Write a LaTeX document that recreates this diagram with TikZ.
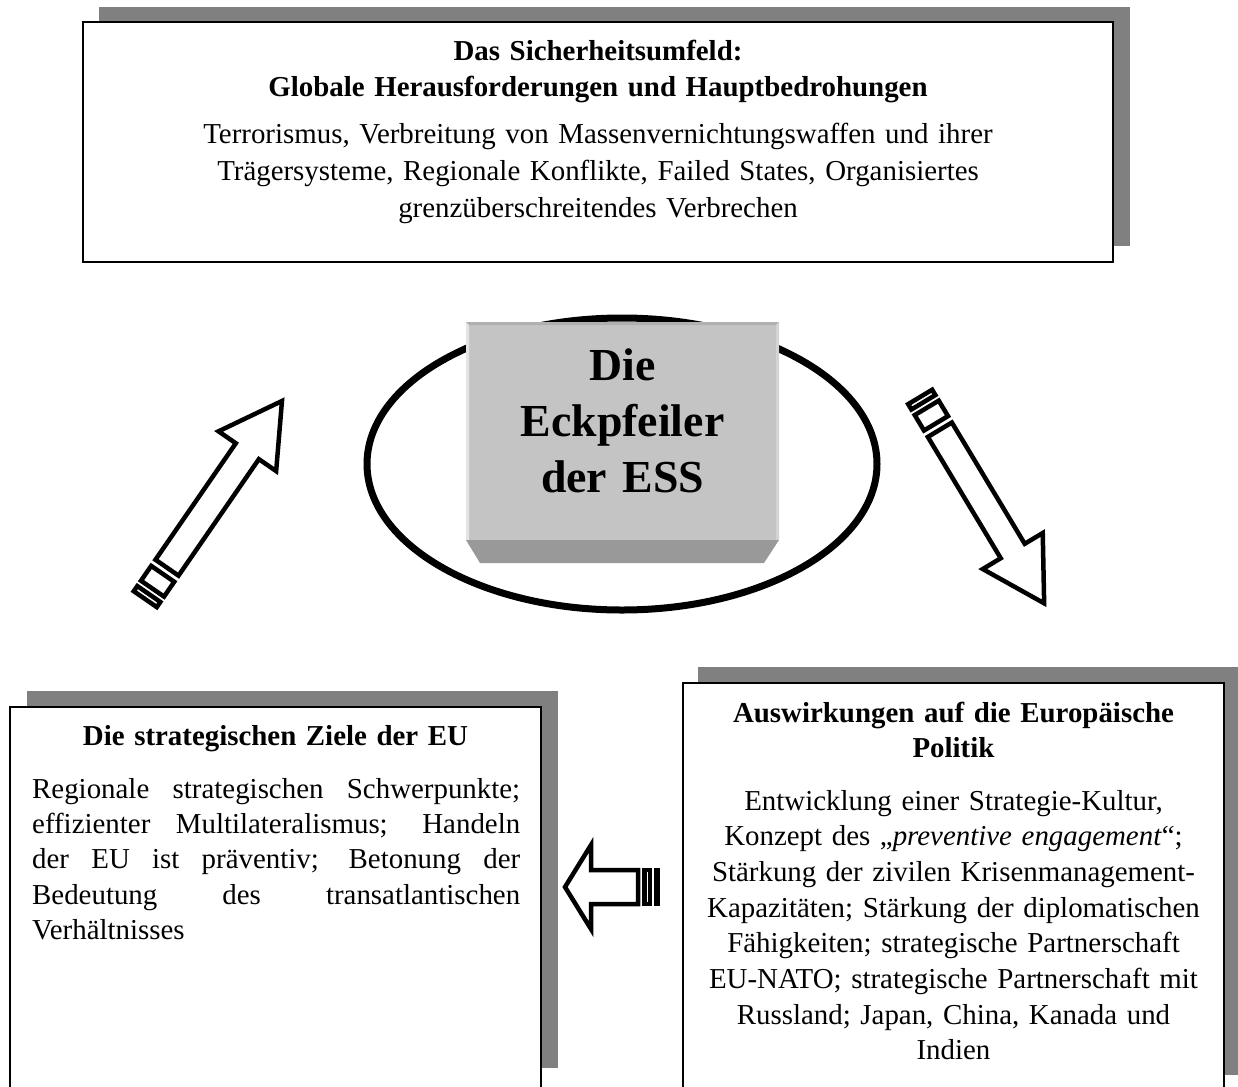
\documentclass[tikz,border=0pt]{standalone}
\usepackage{fontspec}
\setmainfont{Liberation Serif}
\definecolor{shadowgray}{RGB}{128,128,128}
\definecolor{facegray}{RGB}{196,196,196}
\definecolor{bottomgray}{RGB}{153,153,153}
\definecolor{topgray}{RGB}{176,176,176}
\definecolor{leftgray}{RGB}{228,228,228}
\definecolor{rightgray}{RGB}{212,212,212}
\begin{document}
\begin{tikzpicture}[x=1bp,y=-1bp,
  shadow/.style={fill=shadowgray},
  panel/.style={draw=black, line width=2bp, fill=white, inner sep=0, outer sep=0, anchor=north west},
  titletext/.style={inner sep=0, anchor=base, align=center, font=\fontsize{29}{37}\selectfont\bfseries},
  bodytext/.style={inner sep=0, anchor=base, align=center, font=\fontsize{29}{37.5}\selectfont},
  arrowpart/.style={draw=black, fill=white, line width=4.5bp, line join=miter},
]
\useasboundingbox (0,0) rectangle (1238,1087);
\clip (0,0) rectangle (1238,1087);

% top panel
\fill[shadow] (99,7) rectangle (1130,246);
\node[panel, minimum width=1030bp, minimum height=240bp] (envbox) at (83,22) {};
\node[titletext, text width=1000bp] (envtitle) at (598,60)
  {Das Sicherheitsumfeld:\\Globale Herausforderungen und Hauptbedrohungen};
\node[bodytext, text width=1000bp] (envbody) at (598,143)
  {Terrorismus, Verbreitung von Massenvernichtungswaffen und ihrer\\Trägersysteme, Regionale Konflikte, Failed States, Organisiertes\\grenzüberschreitendes Verbrechen};

% left panel
\fill[shadow] (27,691) rectangle (558,1068);
\node[panel, minimum width=531bp, minimum height=385bp] (goalbox) at (10,707) {};
\node[titletext, text width=500bp, font=\fontsize{29}{35.5}\selectfont\bfseries] (goaltitle) at (275.5,745)
  {Die strategischen Ziele der EU};
\node[bodytext, text width=488bp, align=justify, anchor=base west, font=\fontsize{29}{35.5}\selectfont] (goalbody) at (32,798)
  {Regionale strategischen Schwerpunkte;\linebreak effizienter Multilateralismus; Handeln\linebreak der EU ist präventiv; Betonung der\linebreak Bedeutung des transatlantischen\linebreak Verhältnisses};

% right panel
\fill[shadow] (698,667) rectangle (1240,1075);
\node[panel, minimum width=541bp, minimum height=410bp] (impactbox) at (683,683) {};
\node[titletext, text width=530bp, font=\fontsize{29}{36}\selectfont\bfseries] (impacttitle) at (953.5,722)
  {Auswirkungen auf die Europäische\\Politik};
\node[bodytext, text width=530bp, font=\fontsize{29}{35.8}\selectfont] (impactbody) at (953.5,810)
  {Entwicklung einer Strategie-Kultur,\\Konzept des „\textit{preventive engagement}“;\\Stärkung der zivilen Krisenmanagement-\\Kapazitäten; Stärkung der diplomatischen\\Fähigkeiten; strategische Partnerschaft\\EU-NATO; strategische Partnerschaft mit\\Russland; Japan, China, Kanada und\\Indien};

% ellipse and central block
\draw[line width=7bp] (622,464) ellipse [x radius=255, y radius=146];
\fill[facegray] (466,322) rectangle (779,540);
\fill[topgray] (466,322) -- (779,322) -- (776,325) -- (469,325) -- cycle;
\fill[leftgray] (466,322) -- (469,325) -- (469,540) -- (466,540) -- cycle;
\fill[rightgray] (779,322) -- (776,325) -- (776,540) -- (779,540) -- cycle;
\fill[bottomgray] (466,540) -- (779,540) -- (764,563) -- (480,563) -- cycle;
\node[inner sep=0, anchor=base, text width=300bp, align=center, font=\fontsize{46}{56.5}\selectfont\bfseries] (core) at (622.5,380)
  {Die\\Eckpfeiler\\der ESS};

% striped arrow, lower left, pointing up-right
\begin{scope}[shift={(144,601)}, rotate=55.4]
  \draw[arrowpart] (2.25,-14) rectangle (8.5,14);
  \draw[arrowpart] (15,-14) rectangle (33,14);
  \draw[arrowpart] (40.5,-14) -- (182,-14) -- (182,-35) -- (243,0) -- (182,35) -- (182,14) -- (40.5,14) -- cycle;
\end{scope}

% striped arrow, upper right, pointing down-right
\begin{scope}[shift={(919,395)}, rotate=-59]
  \draw[arrowpart] (2.25,-14) rectangle (8.5,14);
  \draw[arrowpart] (15,-14) rectangle (33,14);
  \draw[arrowpart] (40.5,-14) -- (182,-14) -- (182,-35) -- (243,0) -- (182,35) -- (182,14) -- (40.5,14) -- cycle;
\end{scope}

% striped arrow between lower panels, pointing left
\draw[arrowpart] (565,887) -- (591,845) -- (591,870) -- (638,870) -- (638,904) -- (591,904) -- (591,929) -- cycle;
\draw[arrowpart] (644.25,870) rectangle (650,904);
\draw[arrowpart] (655.75,870) rectangle (657.75,904);
\end{tikzpicture}
\end{document}
